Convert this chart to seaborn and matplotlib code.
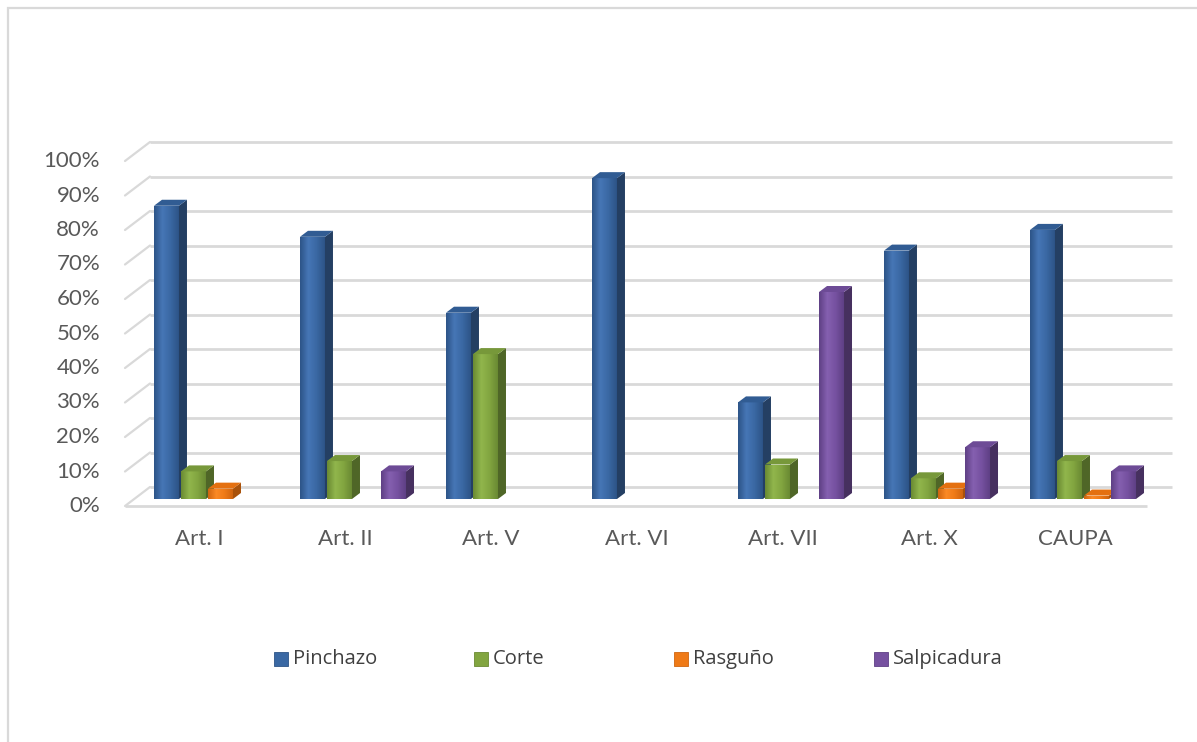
import numpy as np
import pandas as pd
import matplotlib
matplotlib.use("Agg")
import matplotlib.pyplot as plt
import seaborn as sns
from matplotlib.patches import Polygon, Rectangle
from matplotlib.colors import LinearSegmentedColormap

# ---- data -------------------------------------------------------------
categories = ["Art. I", "Art. II", "Art. V", "Art. VI", "Art. VII", "Art. X", "CAUPA"]
series = ["Pinchazo", "Corte", "Rasguño", "Salpicadura"]
pinchazo = [0.85, 0.76, 0.54, 0.93, 0.28, 0.72, 0.78]
corte = [0.08, 0.11, 0.42, 0.00, 0.10, 0.06, 0.11]
rasguno = [0.03, 0.00, 0.00, 0.00, 0.00, 0.03, 0.01]
salpicadura = [0.00, 0.08, 0.00, 0.00, 0.60, 0.15, 0.08]
y_ticks = [0.0, 0.1, 0.2, 0.3, 0.4, 0.5, 0.6, 0.7, 0.8, 0.9, 1.0]
y_tick_labels = ["0%", "10%", "20%", "30%", "40%", "50%", "60%", "70%", "80%", "90%", "100%"]

df = pd.DataFrame({
    "categoria": categories * len(series),
    "tipo": np.repeat(series, len(categories)),
    "valor": pinchazo + corte + rasguno + salpicadura,
})

# ---- colours (face, highlight, edge shade, side, top) -----------------
face = {"Pinchazo": "#3a68a3", "Corte": "#82a540", "Rasguño": "#ef7a17", "Salpicadura": "#7651a0"}
light = {"Pinchazo": "#4676b6", "Corte": "#91b64c", "Rasguño": "#fb8a26", "Salpicadura": "#8560b0"}
shade = {"Pinchazo": "#2d5487", "Corte": "#6a8a33", "Rasguño": "#d06510", "Salpicadura": "#5f4085"}
side = {"Pinchazo": "#243f63", "Corte": "#4f6627", "Rasguño": "#a9520b", "Salpicadura": "#46305f"}
top = {"Pinchazo": "#315c93", "Corte": "#77983a", "Rasguño": "#e47010", "Salpicadura": "#6d4b96"}

sns.set_theme(style="white")
plt.rcParams["font.family"] = ["Lato", "DejaVu Sans"]

W, H = 1197, 742
fig = plt.figure(figsize=(W / 100, H / 100), dpi=100)
fig.patch.set_facecolor("white")

# chart frame (top and left edges visible)
fig.patches.append(Rectangle((7.5 / W, -0.1), 1.2, 1 - 7.5 / H + 0.1, transform=fig.transFigure,
                             fill=False, edgecolor="#d9d9d9", linewidth=1.6))

ax_l, ax_r, ax_b, ax_t = 134, 1156, 499, 154
ax = fig.add_axes([ax_l / W, 1 - ax_b / H, (ax_r - ax_l) / W, (ax_b - ax_t) / H])

sns.barplot(data=df, x="categoria", y="valor", hue="tipo", order=categories,
            hue_order=series, palette=face, width=0.74, gap=0.075, linewidth=0,
            saturation=1, legend=False, ax=ax, zorder=3)

ax.set_xlim(-0.5, len(categories) - 0.5)
ax.set_ylim(0, 1)
ax.axis("off")

# pixel -> data unit conversions
sx = (ax_r - ax_l) / len(categories)
sy = (ax_b - ax_t) / 1.0
px = lambda v: v / sx
py = lambda v: v / sy

# back wall gridlines, left wall stubs and floor edge
back_dx, back_dy = px(16), py(12)
front_dx, front_dy = px(-9), py(-7)
x_lo, x_hi = -0.5, len(categories) - 0.5
grid_c = "#d9d9d9"
for t in y_ticks:
    ax.plot([x_lo + back_dx, x_hi + back_dx], [t + back_dy, t + back_dy],
            color=grid_c, lw=2, clip_on=False, zorder=1, solid_capstyle="butt")
    ax.plot([x_lo + front_dx, x_lo + back_dx], [t + front_dy, t + back_dy],
            color=grid_c, lw=1.6, clip_on=False, zorder=1)
ax.plot([x_lo + front_dx, x_hi + front_dx], [front_dy, front_dy],
        color=grid_c, lw=2, clip_on=False, zorder=1, solid_capstyle="butt")

# bar depth: gradient front, side and top faces
ddx, ddy = px(8), py(6)
grad = np.linspace(0, 1, 64)[None, :]
for i, (name, cont) in enumerate(zip(series, ax.containers)):
    z = 3 + i
    cmap = LinearSegmentedColormap.from_list(name, [shade[name], light[name], face[name], shade[name]])
    for patch in cont:
        h = patch.get_height()
        if h <= 0:
            continue
        x0, w = patch.get_x(), patch.get_width()
        x1 = x0 + w
        patch.set_zorder(z)
        im = ax.imshow(grad, cmap=cmap, extent=(x0, x1, 0, h), aspect="auto",
                       interpolation="bilinear", zorder=z + 0.1)
        im.set_clip_path(patch)
        ax.add_patch(Polygon([(x1, 0), (x1 + ddx, ddy), (x1 + ddx, h + ddy), (x1, h)],
                             closed=True, facecolor=side[name], edgecolor="none",
                             zorder=z + 0.2, clip_on=False))
        ax.add_patch(Polygon([(x0, h), (x0 + ddx, h + ddy), (x1 + ddx, h + ddy), (x1, h)],
                             closed=True, facecolor=top[name], edgecolor="none",
                             zorder=z + 0.2, clip_on=False))

ax.set_xlim(x_lo, x_hi)
ax.set_ylim(0, 1)

# axis labels
label_c = "#595959"
for t, lab in zip(y_ticks, y_tick_labels):
    ax.text(x_lo - px(34), t + front_dy, lab, ha="right", va="center",
            fontsize=16, color=label_c, clip_on=False)
for k, cat in enumerate(categories):
    ax.text(k - px(8), -py(40), cat, ha="center", va="center",
            fontsize=16, color=label_c, clip_on=False)

# legend: evenly spaced entries below the plot
leg_y = 1 - 659 / H
for k, name in enumerate(series):
    mx = 274 + 200 * k
    fig.patches.append(Rectangle((mx / W, leg_y - 7 / H), 14 / W, 14 / H,
                                 transform=fig.transFigure, facecolor=face[name],
                                 edgecolor=shade[name], linewidth=0.6))
    fig.text((mx + 19) / W, leg_y, name, ha="left", va="center", fontsize=14.5,
             color="#404040", family=["Open Sans", "DejaVu Sans"])

fig.savefig("out.png", dpi=100)
